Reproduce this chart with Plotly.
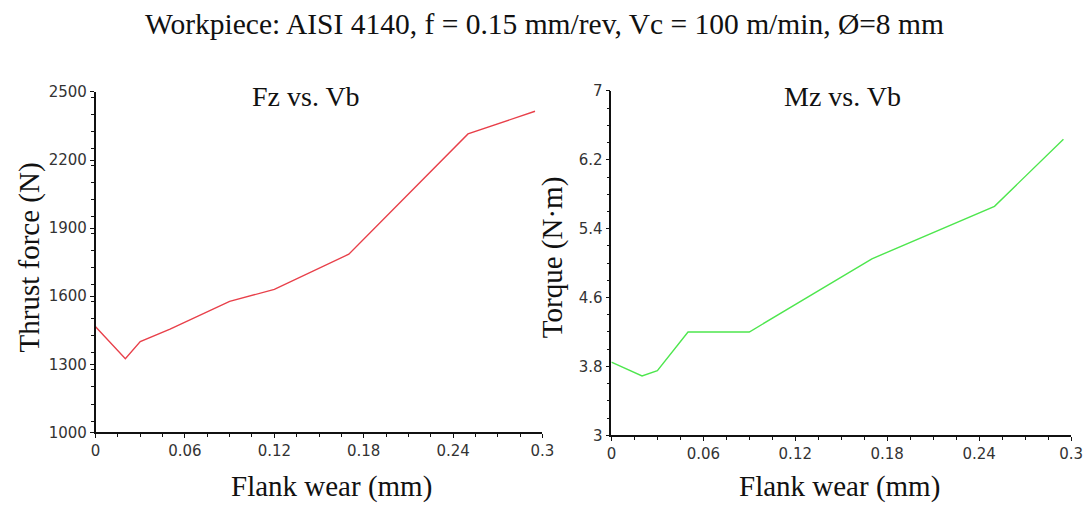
import plotly.graph_objects as go

# flank wear (mm)
vb = [0, 0.02, 0.03, 0.05, 0.09, 0.12, 0.17, 0.25, 0.295]
# thrust force (N)
fz = [1465, 1325, 1400, 1455, 1577, 1630, 1785, 2315, 2415]
# torque (N.m)
mz = [3.85, 3.69, 3.75, 4.2, 4.2, 4.52, 5.05, 5.66, 6.44]

W, H = 1090, 506
serif = "Liberation Serif, Times New Roman, serif"
tickfont = dict(family="DejaVu Sans, Arial, sans-serif", size=15, color="#333")


def px(x):
    return x / W


def py(y):
    return (H - y) / H


fig = go.Figure()
fig.add_trace(go.Scatter(x=vb, y=fz, mode="lines", line=dict(color="#e8404a", width=1.4),
                         xaxis="x", yaxis="y", showlegend=False))
fig.add_trace(go.Scatter(x=vb, y=mz, mode="lines", line=dict(color="#4ee64e", width=1.4),
                         xaxis="x2", yaxis="y2", showlegend=False))

axis_common = dict(
    showgrid=False, zeroline=False, showline=True, linecolor="#111", linewidth=1.5,
    ticks="outside", ticklen=4, tickcolor="#111", tickfont=tickfont,
)
minor_common = dict(ticklen=3, ticks="outside", tickcolor="#111")

fig.update_layout(
    width=W, height=H,
    margin=dict(l=0, r=0, t=0, b=0),
    paper_bgcolor="white", plot_bgcolor="white",
    xaxis=dict(domain=[px(92), px(546)], range=[0, 0.3], dtick=0.06, tick0=0,
               anchor="y", minor=dict(dtick=0.015, **minor_common), **axis_common),
    yaxis=dict(domain=[py(439), py(86)], range=[1000, 2500], dtick=300, tick0=1000,
               anchor="x", minor=dict(dtick=75, **minor_common), **axis_common),
    xaxis2=dict(domain=[px(616), px(1083)], range=[0, 0.3], dtick=0.06, tick0=0,
                anchor="y2", minor=dict(dtick=0.015, **minor_common), **axis_common),
    yaxis2=dict(domain=[py(442), py(85)], range=[3, 7], dtick=0.8, tick0=3,
                anchor="x2", minor=dict(dtick=0.2, **minor_common), **axis_common),
)

texts = [
    ("Workpiece: AISI 4140, f = 0.15 mm/rev, Vc = 100 m/min, Ø=8 mm", 548, 16, 29.5, 0),
    ("Fz vs. Vb", 306, 91, 28, 0),
    ("Mz vs. Vb", 851, 91, 28, 0),
    ("Thrust force (N)", 25, 258, 29, -90),
    ("Torque (N·m)", 556, 258, 29, -90),
    ("Flank wear (mm)", 332, 495, 29, 0),
    ("Flank wear (mm)", 848, 495, 29, 0),
]
for txt, x, y, size, angle in texts:
    fig.add_annotation(text=txt, x=px(x), y=py(y), xref="paper", yref="paper",
                       xanchor="center", yanchor="middle", showarrow=False,
                       textangle=angle, font=dict(family=serif, size=size, color="#111"))

# page body has a default 8px margin; drop it so the figure fills the window
fig.write_html("out.html", config={"displayModeBar": False},
               post_script="document.body.style.margin='0';")
